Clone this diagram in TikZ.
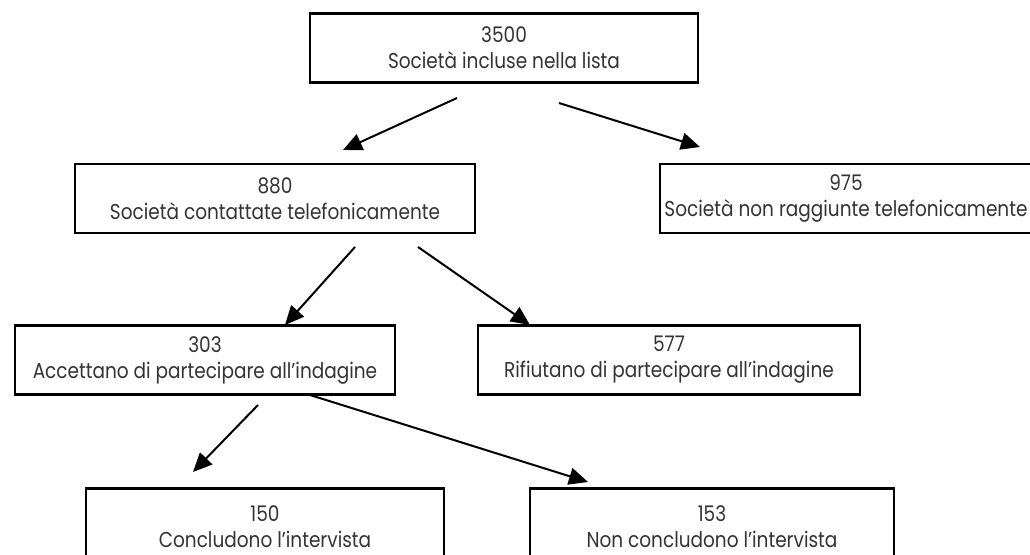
\documentclass[tikz,border=0pt]{standalone}
\usepackage{fontspec}
\setmainfont[FakeStretch=0.86]{Poppins}
\usetikzlibrary{arrows.meta, positioning}
\definecolor{boxText}{gray}{0.2}

\tikzset{
  box/.style={draw, line width=2.6pt, align=center, inner sep=0pt,
    minimum height=69pt, text=boxText, font=\fontsize{21.5}{26}\selectfont},
  flow/.style={line width=2pt, -{Triangle[length=19pt, width=17pt]}},
}

\begin{document}
\begin{tikzpicture}[x=1pt, y=-1pt]
    \useasboundingbox (0,0) rectangle (1030,554);

    \node[box, minimum width=388pt] (lista) at (504,48) {3500\\Società incluse nella lista};
    \node[box, minimum width=400pt] (contattate) at (275,198.5) {880\\Società contattate telefonicamente};
    \node[box, minimum width=372pt] (nonraggiunte) at (846,198.5) {975\\Società non raggiunte telefonicamente};
    \node[box, minimum width=380pt] (accettano) at (205,360) {303\\Accettano di partecipare all’indagine};
    \node[box, minimum width=382pt] (rifiutano) at (669,360) {577\\Rifiutano di partecipare all’indagine};
    \node[box, minimum width=358pt, minimum height=76pt, anchor=north] (concludono) at (265,487) {150\\Concludono l’intervista};
    \node[box, minimum width=364pt, minimum height=76pt, anchor=north] (nonconcludono) at (712,487) {153\\Non concludono l’intervista};

    % free arrows between the levels
    \coordinate (a1) at (457,98);  \coordinate (h1) at (343,150);
    \coordinate (a2) at (559,103); \coordinate (h2) at (700,147);
    \coordinate (a3) at (355,247); \coordinate (h3) at (285,325);
    \coordinate (a4) at (418,247); \coordinate (h4) at (530,325);
    \coordinate (a5) at (258,405); \coordinate (h5) at (193,472);
    \coordinate (a6) at (310,395); \coordinate (h6) at (588,482);

    \draw[flow] (a1) -- (h1);
    \draw[flow] (a2) -- (h2);
    \draw[flow] (a3) -- (h3);
    \draw[flow] (a4) -- (h4);
    \draw[flow] (a5) -- (h5);
    \draw[flow] (a6) -- (h6);
\end{tikzpicture}
\end{document}
